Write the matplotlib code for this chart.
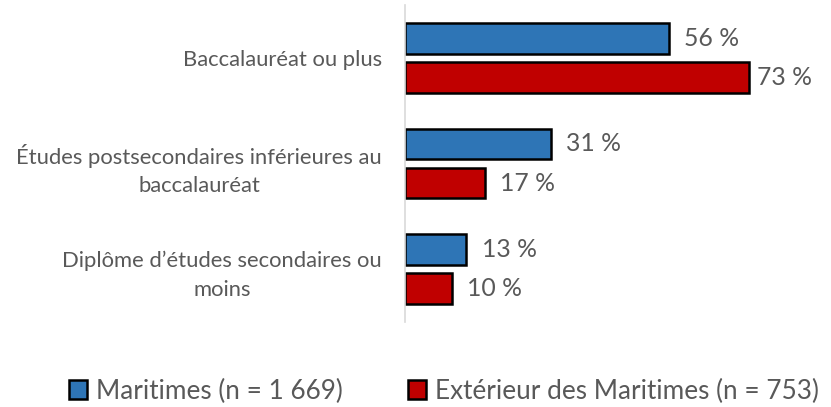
import matplotlib.pyplot as plt
import numpy as np
from matplotlib.patches import Patch

plt.rcParams['font.family'] = ['Lato', 'DejaVu Sans']

# data
categories = ["Baccalauréat ou plus",
              "Études postsecondaires inférieures au\nbaccalauréat",
              "Diplôme d\u2019études secondaires ou\nmoins"]
maritimes = [56, 31, 13]
exterieur = [73, 17, 10]
series_names = ["Maritimes (n = 1 669)", "Extérieur des Maritimes (n = 753)"]

blue = '#2E75B6'
red = '#C00000'
grey = '#595959'

fig = plt.figure(figsize=(8.31, 4.07), dpi=100)
ax = fig.add_axes([405/831, 1 - 322/407, 424/831, 317/407])

y = np.arange(len(categories))
h = 0.29
off = 0.185
b1 = ax.barh(y - off, maritimes, height=h, color=blue, edgecolor='black', linewidth=1.8)
b2 = ax.barh(y + off, exterieur, height=h, color=red, edgecolor='black', linewidth=1.8)

ax.set_xlim(0, 90)
ax.set_ylim(2.5, -0.5)
ax.set_xticks([])
ax.set_yticks(y)
ax.set_yticklabels(categories, fontsize=15.8, color=grey, ha='right',
                   multialignment='center', linespacing=1.55)
ax.tick_params(axis='y', length=0, pad=16.5)
for s in ['top', 'right', 'bottom']:
    ax.spines[s].set_visible(False)
ax.spines['left'].set_color('#D9D9D9')
ax.spines['left'].set_linewidth(1.2)

top = max(maritimes + exterieur)
for bars, vals in [(b1, maritimes), (b2, exterieur)]:
    for bar, v in zip(bars, vals):
        pad = 5.5 if v == top else 11
        ax.annotate(f"{v} %", (v, bar.get_y() + bar.get_height() / 2),
                    xytext=(pad, 0), textcoords='offset points',
                    ha='left', va='center', fontsize=17.8, color=grey,
                    annotation_clip=False)

handles = [Patch(facecolor=blue, edgecolor='black', linewidth=1.8),
           Patch(facecolor=red, edgecolor='black', linewidth=1.8)]
fig.legend(handles, series_names, loc='center', bbox_to_anchor=(444/831, 1 - 391/407),
           ncol=2, frameon=False, fontsize=18.8, labelcolor=grey,
           handlelength=0.7, handleheight=0.7, handletextpad=0.33,
           columnspacing=2.5, borderpad=0, borderaxespad=0)

fig.savefig('out.png', dpi=100)
